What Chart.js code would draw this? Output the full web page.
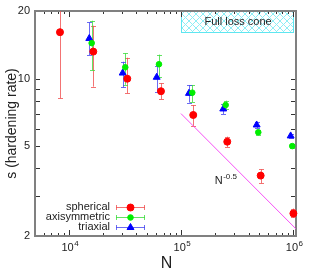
<!DOCTYPE html>
<html>
<head>
<meta charset="utf-8">
<script src="https://cdn.jsdelivr.net/npm/chart.js@4/dist/chart.umd.min.js"></script>
<style>
  html, body { margin: 0; padding: 0; background: #fff; }
  canvas { display: block; }
</style>
</head>
<body>
<canvas id="c" width="314" height="275"></canvas>
<script>
// data
const nSpherical = [8350, 16540, 33220, 66320, 128700, 258600, 513300, 1005000];
const sSpherical = [16.1, 13.2, 10.0, 8.8, 6.9, 5.25, 3.71, 2.52];
const sSphericalLo = [8.19, 9.22, 8.61, 8.10, 6.17, 4.97, 3.43, 2.42];
const sSphericalHi = [24, 17.2, 12.4, 9.54, 7.64, 5.53, 3.96, 2.65];

const nAxisym = [16000, 31880, 63670, 126100, 250200, 488700, 981800];
const sAxisym = [14.4, 11.24, 11.6, 8.67, 7.64, 5.78, 5.02];
const sAxisymLo = [10.9, 9.4, 10.2, 7.87, 7.34, 5.65, 4.93];
const sAxisymHi = [18.1, 12.97, 12.8, 9.38, 7.99, 5.92, 5.12];

const nTriaxial = [15230, 30220, 60740, 117800, 238200, 472800, 950000];
const sTriaxial = [15.1, 10.6, 10.15, 8.61, 7.34, 6.23, 5.57];
const sTriaxialLo = [12.75, 9.16, 8.76, 7.83, 6.97, 6.04, 5.45];
const sTriaxialHi = [17.8, 11.9, 11.4, 9.38, 7.7, 6.40, 5.7];

// N^-0.5 guide line endpoints
const guideN = [1e5, 1.06e6];
const guideS = [7.0, 2.15];

// axis ticks
const xMajor = [1e4, 1e5, 1e6];
const xMajorExp = ['4', '5', '6'];
const yMajor = [2, 5, 10, 20];
const yMinor = [3, 4, 6, 7, 8, 9];

// "Full loss cone" region
const coneN = [1e5, 1e6];
const coneS = [16.1, 20];

const FONT = '"Liberation Sans", Arial, sans-serif';
const toPts = (xs, ys) => xs.map((x, i) => ({x: x, y: ys[i]}));

const series = [
  {label: 'spherical', n: nSpherical, s: sSpherical, lo: sSphericalLo, hi: sSphericalHi,
   color: '#ff0000', bar: 'rgba(240,80,80,0.8)', style: 'circle', radius: 3.5},
  {label: 'axisymmetric', n: nAxisym, s: sAxisym, lo: sAxisymLo, hi: sAxisymHi,
   color: '#00ee00', bar: 'rgba(60,220,60,0.8)', style: 'circle', radius: 2.8},
  {label: 'triaxial', n: nTriaxial, s: sTriaxial, lo: sTriaxialLo, hi: sTriaxialHi,
   color: '#0000ff', bar: 'rgba(70,70,240,0.8)', style: 'triangle', radius: 4}
];

// hatch pattern for the loss cone box
function hatch(ctx) {
  const c = document.createElement('canvas');
  c.width = 7; c.height = 7;
  const g = c.getContext('2d');
  g.strokeStyle = '#8eeef5';
  g.lineWidth = 1;
  g.beginPath();
  g.moveTo(0, 0); g.lineTo(7, 7);
  g.moveTo(7, 0); g.lineTo(0, 7);
  g.stroke();
  return ctx.createPattern(c, 'repeat');
}

function superText(ctx, base, sup, x, y, size, align) {
  ctx.font = size + 'px ' + FONT;
  const wb = ctx.measureText(base).width;
  ctx.font = Math.round(size * 0.72) + 'px ' + FONT;
  const ws = ctx.measureText(sup).width;
  let left = x;
  if (align === 'center') left = x - (wb + ws) / 2;
  ctx.textAlign = 'left';
  ctx.textBaseline = 'middle';
  ctx.font = size + 'px ' + FONT;
  ctx.fillText(base, left, y);
  ctx.font = Math.round(size * 0.72) + 'px ' + FONT;
  ctx.fillText(sup, left + wb + 0.5, y - size * 0.4);
}

// frame, ticks and the loss cone box go under the data
const frame = {
  id: 'frame',
  beforeDatasetsDraw(chart) {
    const {ctx, chartArea: a, scales: {x, y}} = chart;
    ctx.save();
    const x0 = x.getPixelForValue(coneN[0]), x1 = x.getPixelForValue(coneN[1]);
    const y0 = y.getPixelForValue(coneS[1]), y1 = y.getPixelForValue(coneS[0]);
    ctx.fillStyle = hatch(ctx);
    ctx.fillRect(x0, y0, x1 - x0, y1 - y0);
    ctx.strokeStyle = '#5ee6f0';
    ctx.lineWidth = 1;
    ctx.strokeRect(Math.round(x0) + 0.5, Math.round(y0) + 0.5, Math.round(x1 - x0), Math.round(y1 - y0));
    ctx.fillStyle = '#222';
    ctx.font = '11px ' + FONT;
    ctx.textAlign = 'center';
    ctx.textBaseline = 'middle';
    ctx.fillText('Full loss cone', (x0 + x1) / 2 + 1, (y0 + y1) / 2);

    // ticks, pointing inwards on all four sides
    ctx.strokeStyle = '#333';
    ctx.lineWidth = 1;
    ctx.beginPath();
    for (let d = 1e3; d <= 1e6; d *= 10) {
      for (let m = 1; m <= 9; m++) {
        const v = d * m;
        if (v < x.min || v > x.max) continue;
        const px = Math.round(x.getPixelForValue(v)) + 0.5;
        const len = m === 1 ? 6 : 3;
        ctx.moveTo(px, a.bottom); ctx.lineTo(px, a.bottom - len);
        ctx.moveTo(px, a.top); ctx.lineTo(px, a.top + len);
      }
    }
    yMajor.concat(yMinor).forEach(v => {
      const py = Math.round(y.getPixelForValue(v)) + 0.5;
      ctx.moveTo(a.left, py); ctx.lineTo(a.left + 5, py);
      ctx.moveTo(a.right, py); ctx.lineTo(a.right - 5, py);
    });
    ctx.stroke();
    ctx.strokeStyle = '#808080';
    ctx.lineWidth = 2;
    ctx.strokeRect(a.left, a.top, a.right - a.left, a.bottom - a.top);

    // error bars
    ctx.beginPath();
    ctx.rect(a.left, a.top, a.right - a.left, a.bottom - a.top);
    ctx.clip();
    ctx.lineWidth = 1;
    series.forEach(s => {
      ctx.strokeStyle = s.bar;
      s.n.forEach((n, i) => {
        const px = Math.round(x.getPixelForValue(n)) + 0.5;
        const top = y.getPixelForValue(s.hi[i]);
        const bot = y.getPixelForValue(s.lo[i]);
        ctx.beginPath();
        ctx.moveTo(px, top); ctx.lineTo(px, bot);
        ctx.moveTo(px - 2.5, Math.round(top) + 0.5); ctx.lineTo(px + 2.5, Math.round(top) + 0.5);
        ctx.moveTo(px - 2.5, Math.round(bot) + 0.5); ctx.lineTo(px + 2.5, Math.round(bot) + 0.5);
        ctx.stroke();
      });
    });
    ctx.restore();
  },
  afterDraw(chart) {
    const {ctx, chartArea: a, scales: {x, y}} = chart;
    ctx.save();
    // tick labels
    ctx.fillStyle = '#222';
    ctx.font = '11px ' + FONT;
    ctx.textAlign = 'right';
    ctx.textBaseline = 'middle';
    yMajor.forEach(v => ctx.fillText(String(v), a.left - 5, y.getPixelForValue(v)));
    xMajor.forEach((v, i) => superText(ctx, '10', xMajorExp[i], x.getPixelForValue(v) + 1, a.bottom + 12, 11, 'center'));

    // axis titles
    ctx.font = '16px ' + FONT;
    ctx.textAlign = 'center';
    ctx.textBaseline = 'middle';
    ctx.fillText('N', (a.left + a.right) / 2 + 1, a.bottom + 28);
    ctx.save();
    ctx.translate(12, (a.top + a.bottom) / 2);
    ctx.rotate(-Math.PI / 2);
    ctx.font = '14px ' + FONT;
    ctx.fillText('s (hardening rate)', 0, 0);
    ctx.restore();

    // guide line label
    superText(ctx, 'N', '-0.5', x.getPixelForValue(2.0e5), y.getPixelForValue(3.5), 11, 'left');

    // legend
    series.forEach((s, i) => {
      const ly = a.bottom - 29 + i * 10;
      ctx.fillStyle = '#222';
      ctx.font = '11px ' + FONT;
      ctx.textAlign = 'right';
      ctx.textBaseline = 'middle';
      ctx.fillText(s.label, 110, ly);
      ctx.strokeStyle = s.bar;
      ctx.lineWidth = 1;
      ctx.beginPath();
      ctx.moveTo(116, ly + 0.5); ctx.lineTo(145, ly + 0.5);
      ctx.moveTo(116.5, ly - 2); ctx.lineTo(116.5, ly + 3);
      ctx.moveTo(144.5, ly - 2); ctx.lineTo(144.5, ly + 3);
      ctx.stroke();
      ctx.fillStyle = s.color;
      ctx.strokeStyle = s.color;
      Chart.helpers.drawPoint(ctx, {pointStyle: s.style, radius: s.radius, rotation: 0, borderWidth: 1}, 130.5, ly + 0.5);
    });
    ctx.restore();
  }
};

const datasets = series.map(s => ({
  type: 'scatter',
  label: s.label,
  data: toPts(s.n, s.s),
  pointStyle: s.style,
  pointRadius: s.radius,
  backgroundColor: s.color,
  borderColor: s.color,
  borderWidth: 1,
  clip: false
}));
datasets.unshift({
  type: 'line',
  label: 'N^-0.5',
  data: toPts(guideN, guideS),
  borderColor: 'rgba(245,60,245,0.9)',
  borderWidth: 1,
  pointRadius: 0,
  fill: false
});

new Chart(document.getElementById('c'), {
  type: 'scatter',
  data: {datasets: datasets},
  options: {
    responsive: false,
    animation: false,
    layout: {padding: {left: 35, top: 11, right: 18, bottom: 39}},
    scales: {
      x: {type: 'logarithmic', min: 5000, max: 1.06e6, display: false},
      y: {type: 'logarithmic', min: 2, max: 20, display: false}
    },
    plugins: {
      legend: {display: false},
      tooltip: {enabled: false}
    }
  },
  plugins: [frame]
});
</script>
</body>
</html>
